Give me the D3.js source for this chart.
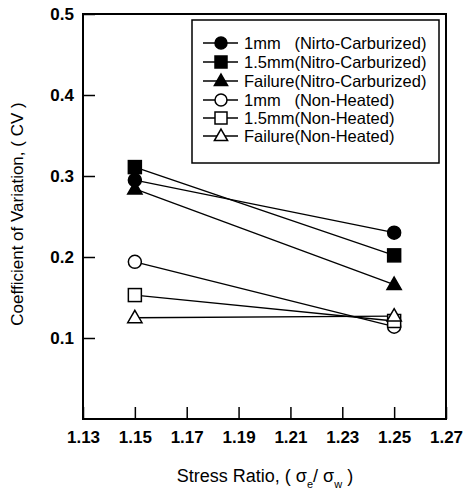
<!DOCTYPE html>
<html>
<head>
<meta charset="utf-8">
<script src="https://cdn.jsdelivr.net/npm/d3@7"></script>
<style>
  body { margin: 0; background: #fff; }
  svg { font-family: "Liberation Sans", Arial, sans-serif; }
</style>
</head>
<body>
<svg id="chart" width="464" height="494"></svg>
<script>
// data
const stressRatio = [1.15, 1.25];
const seriesNames = [
  "1mm   (Nirto-Carburized)",
  "1.5mm(Nitro-Carburized)",
  "Failure(Nitro-Carburized)",
  "1mm   (Non-Heated)",
  "1.5mm(Non-Heated)",
  "Failure(Non-Heated)"
];
const cv1mmNC = [0.295, 0.230];
const cv15mmNC = [0.311, 0.202];
const cvFailNC = [0.284, 0.166];
const cv1mmNH = [0.194, 0.114];
const cv15mmNH = [0.153, 0.121];
const cvFailNH = [0.125, 0.127];
const xTicks = [1.13, 1.15, 1.17, 1.19, 1.21, 1.23, 1.25, 1.27];
const yTicks = [0.1, 0.2, 0.3, 0.4, 0.5];

const svg = d3.select("#chart");
const margin = { top: 14, right: 18, bottom: 75, left: 83 };
const W = 464, H = 494;

const x = d3.scaleLinear().domain([1.13, 1.27]).range([margin.left, W - margin.right]);
const y = d3.scaleLinear().domain([0, 0.5]).range([H - margin.bottom, margin.top]);

// series table: values + marker shape
const shapes = ["circle", "square", "triangle", "circle", "square", "triangle"];
const seriesValues = [cv1mmNC, cv15mmNC, cvFailNC, cv1mmNH, cv15mmNH, cvFailNH];
const series = seriesNames.map((name, i) => ({
  name,
  shape: shapes[i],
  filled: i < 3,
  points: stressRatio.map((r, j) => ({ r, v: seriesValues[i][j] }))
}));

function marker(g, shape, filled, size) {
  const fill = filled ? "#000" : "#fff";
  const sw = 1.5;
  if (shape === "circle") {
    g.append("circle").attr("r", size / 2).attr("fill", fill).attr("stroke", "#000").attr("stroke-width", sw);
  } else if (shape === "square") {
    g.append("rect").attr("x", -size / 2).attr("y", -size / 2).attr("width", size).attr("height", size)
      .attr("fill", fill).attr("stroke", "#000").attr("stroke-width", sw);
  } else {
    const s = size * 1.1;
    const h = s * 0.87;
    g.append("path").attr("d", `M0,${-h * 0.6}L${s / 2},${h * 0.4}L${-s / 2},${h * 0.4}Z`)
      .attr("fill", fill).attr("stroke", "#000").attr("stroke-width", sw);
  }
}

// axes
const xAxis = d3.axisBottom(x).tickValues(xTicks).tickFormat(d3.format(".2f"))
  .tickSizeInner(-12).tickSizeOuter(0).tickPadding(9);
const yAxis = d3.axisLeft(y).tickValues(yTicks).tickFormat(d3.format(".1f"))
  .tickSizeInner(-12).tickSizeOuter(0).tickPadding(9);

const gx = svg.append("g").attr("transform", `translate(0,${H - margin.bottom})`).call(xAxis);
const gy = svg.append("g").attr("transform", `translate(${margin.left},0)`).call(yAxis);
[gx, gy].forEach(g => {
  g.select(".domain").remove();
  g.selectAll(".tick line").attr("stroke", "#000").attr("stroke-width", 1.5);
  g.selectAll(".tick text").attr("fill", "#000").style("font-size", "17px").style("font-weight", "bold");
});
gx.selectAll(".tick text").attr("dy", "0.9em");

// frame
svg.append("rect")
  .attr("x", margin.left).attr("y", margin.top)
  .attr("width", W - margin.left - margin.right)
  .attr("height", H - margin.top - margin.bottom)
  .attr("fill", "none").attr("stroke", "#000").attr("stroke-width", 2);

// lines
const line = d3.line().x(d => x(d.r)).y(d => y(d.v));
svg.append("g").selectAll("path").data(series).join("path")
  .attr("d", d => line(d.points))
  .attr("fill", "none").attr("stroke", "#000").attr("stroke-width", 1.3);

// markers
series.forEach(s => {
  s.points.forEach(p => {
    const g = svg.append("g").attr("transform", `translate(${x(p.r)},${y(p.v)})`);
    marker(g, s.shape, s.filled, 13);
  });
});

// legend
const lg = svg.append("g");
lg.append("rect").attr("x", 192).attr("y", 20).attr("width", 247).attr("height", 143)
  .attr("fill", "#fff").attr("stroke", "#000").attr("stroke-width", 1.5);
const rowY = [43, 62, 81, 100, 118, 136];
series.forEach((s, i) => {
  const row = lg.append("g").attr("transform", `translate(0,${rowY[i]})`);
  row.append("line").attr("x1", 203).attr("x2", 238).attr("stroke", "#000").attr("stroke-width", 1.3);
  const m = row.append("g").attr("transform", "translate(221,0)");
  marker(m, s.shape, s.filled, 12);
  row.append("text").attr("x", 244).attr("dy", "0.35em")
    .style("font-size", "16.5px").style("white-space", "pre").attr("xml:space", "preserve")
    .text(s.name);
});

// axis titles
const xt = svg.append("text").attr("x", 265).attr("y", 482).attr("text-anchor", "middle")
  .style("font-size", "18px");
xt.append("tspan").text("Stress Ratio, ( σ");
xt.append("tspan").attr("baseline-shift", "sub").style("font-size", "11px").text("e");
xt.append("tspan").text("/ σ");
xt.append("tspan").attr("baseline-shift", "sub").style("font-size", "11px").text("w");
xt.append("tspan").text(" )");

svg.append("text").attr("transform", "translate(23,214) rotate(-90)")
  .attr("text-anchor", "middle").style("font-size", "17px")
  .text("Coefficient of Variation, ( CV )");
</script>
</body>
</html>
